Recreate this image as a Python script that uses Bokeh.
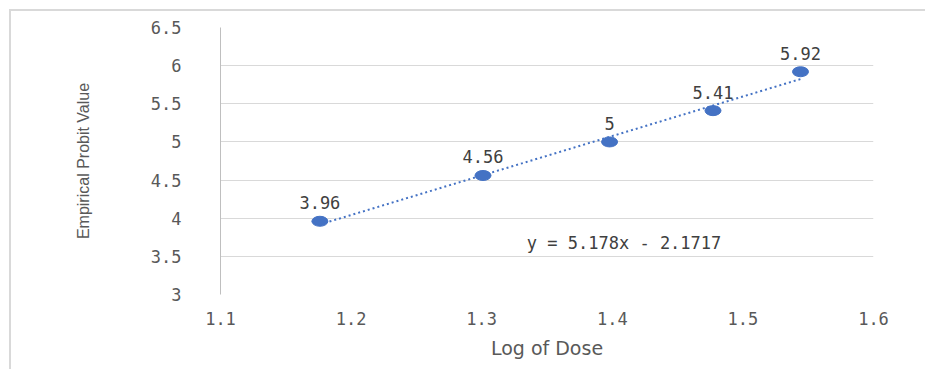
from bokeh.plotting import figure
from bokeh.models import FixedTicker, ColumnDataSource
from bokeh.core.properties import value
from bokeh.embed import file_html
from bokeh.resources import INLINE

# data
log_dose = [1.1761, 1.3010, 1.3979, 1.4771, 1.5441]
probit = [3.96, 4.56, 5.00, 5.41, 5.92]
point_labels = ["3.96", "4.56", "5", "5.41", "5.92"]
slope = 5.178
intercept = -2.1717
equation_text = "y = 5.178x - 2.1717"
equation_pos = (1.409, 3.68)
x_ticks = [1.1, 1.2, 1.3, 1.4, 1.5, 1.6]
x_tick_labels = ["1.1", "1.2", "1.3", "1.4", "1.5", "1.6"]
y_ticks = [3.0, 3.5, 4.0, 4.5, 5.0, 5.5, 6.0, 6.5]
y_tick_labels = ["3", "3.5", "4", "4.5", "5", "5.5", "6", "6.5"]

BLUE = "#4472C4"
TICK_FONT = "DejaVu Sans Mono"

p = figure(width=916, height=360, x_range=(1.1, 1.6), y_range=(3.0, 6.5),
           output_backend="svg", toolbar_location=None,
           min_border_left=209, min_border_right=54, min_border_top=16,
           min_border_bottom=77)
p.styles = {"border-left": "2px solid #d9d9d9", "border-top": "2px solid #d9d9d9",
            "margin-left": "9px", "margin-top": "9px"}
p.outline_line_color = None
p.background_fill_color = "white"
p.border_fill_color = "white"

# grid
p.xgrid.grid_line_color = None
p.ygrid.grid_line_color = "#d9d9d9"
p.ygrid.grid_line_width = 1

# axes
p.xaxis.ticker = FixedTicker(ticks=x_ticks)
p.yaxis.ticker = FixedTicker(ticks=y_ticks)
p.xaxis.major_label_overrides = {t: l for t, l in zip(x_ticks, x_tick_labels)}
p.yaxis.major_label_overrides = {t: l for t, l in zip(y_ticks, y_tick_labels)}
for ax in (p.xaxis, p.yaxis):
    ax.major_tick_line_color = None
    ax.minor_tick_line_color = None
    ax.major_label_text_font = TICK_FONT
    ax.major_label_text_font_size = "17px"
    ax.major_label_text_color = "#595959"
    ax.axis_label_text_color = "#595959"
    ax.axis_label_text_font_style = "normal"
p.xaxis.axis_line_color = None
p.yaxis.axis_line_color = "#bfbfbf"
p.yaxis.major_label_standoff = 33
p.xaxis.major_label_standoff = 11

p.xaxis.axis_label = "Log of Dose"
p.xaxis.axis_label_text_font = "DejaVu Sans"
p.xaxis.axis_label_text_font_size = "19px"
p.xaxis.axis_label_standoff = 9

p.yaxis.axis_label = "Empirical Probit Value"
p.yaxis.axis_label_text_font = "Liberation Sans Narrow, Liberation Sans"
p.yaxis.axis_label_text_font_size = "16px"
p.yaxis.axis_label_standoff = 56

# trendline
tx = [min(log_dose), max(log_dose)]
ty = [slope * v + intercept for v in tx]
p.line(tx, ty, line_color=BLUE, line_width=2, line_dash="2 3")

# points
src = ColumnDataSource(dict(x=log_dose, y=probit, lab=point_labels))
p.ellipse("x", "y", width=16, height=10, width_units="screen", height_units="screen",
          source=src, fill_color=BLUE, line_color=BLUE)

# data labels
p.text("x", "y", text="lab", source=src, text_align="center", text_baseline="bottom",
       y_offset=-12, text_font=value(TICK_FONT), text_font_size="17px",
       text_color="#404040")

# equation
p.text([equation_pos[0]], [equation_pos[1]], text=[equation_text], text_align="center",
       text_baseline="middle", text_font=value(TICK_FONT), text_font_size="17px",
       text_color="#404040")

open("out.html", "w").write(file_html(p, INLINE))
